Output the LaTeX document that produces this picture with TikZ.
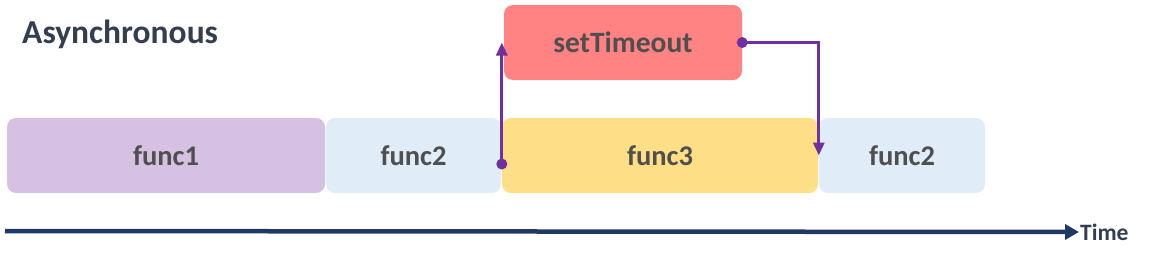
\documentclass[tikz,border=0pt]{standalone}
\usepackage{fontspec}
\setmainfont{Carlito}
\usetikzlibrary{arrows.meta}
\definecolor{lav}{HTML}{D6C1E3}
\definecolor{pale}{HTML}{E0ECF7}
\definecolor{gold}{HTML}{FFDF85}
\definecolor{salmon}{HTML}{FF8383}
\definecolor{txtgray}{HTML}{4F4F4F}
\definecolor{navy}{HTML}{203864}
\definecolor{slate}{HTML}{333F50}
\definecolor{conncol}{HTML}{7030A0}
\tikzset{
  fbox/.style={rectangle, rounded corners=9pt, minimum height=75pt, inner sep=0pt,
    font=\fontsize{28.5}{32}\selectfont\bfseries, text=txtgray},
  conn/.style={draw=conncol, line width=3pt, -{Triangle[width=11pt,length=13pt]}},
  dot/.style={fill=conncol},
}
\begin{document}
\begin{tikzpicture}[x=1pt,y=-1pt]
\useasboundingbox (0,0) rectangle (1158,260);
\node[anchor=base west, text=slate, font=\fontsize{33.5}{38}\selectfont\bfseries, inner sep=0pt] (title) at (22,43) {Asynchronous};
\node[fbox, fill=lav, minimum width=318pt] (f1) at (166,155.5) {func1};
\node[fbox, fill=pale, minimum width=175pt] (f2a) at (413.5,155.5) {func2};
\node[fbox, fill=gold, minimum width=316pt] (f3) at (660,155.5) {func3};
\node[fbox, fill=pale, minimum width=166pt] (f2b) at (902,155.5) {func2};
\node[fbox, fill=salmon, minimum width=238pt, font=\fontsize{29.5}{33}\selectfont\bfseries] (st) at (623,42.5) {setTimeout};
% connectors
\coordinate (s1) at ([yshift=-8.5pt]f3.west);
\draw[conn] (s1) -- (f3.west |- st.west);
\fill[dot] (s1) circle (5.5pt);
\draw[conn] (st.east) -| (f2b.west);
\fill[dot] (st.east) circle (5.5pt);
% time axis
\coordinate (t0) at (5,231);
\node[anchor=west, inner sep=1pt, text=slate, font=\fontsize{23.5}{26}\selectfont\bfseries] (time) at (1079,232) {Time};
\draw[navy, line width=4.5pt, -{Triangle[width=15pt,length=14pt]}] (t0) -- (time.west);
\end{tikzpicture}
\end{document}
